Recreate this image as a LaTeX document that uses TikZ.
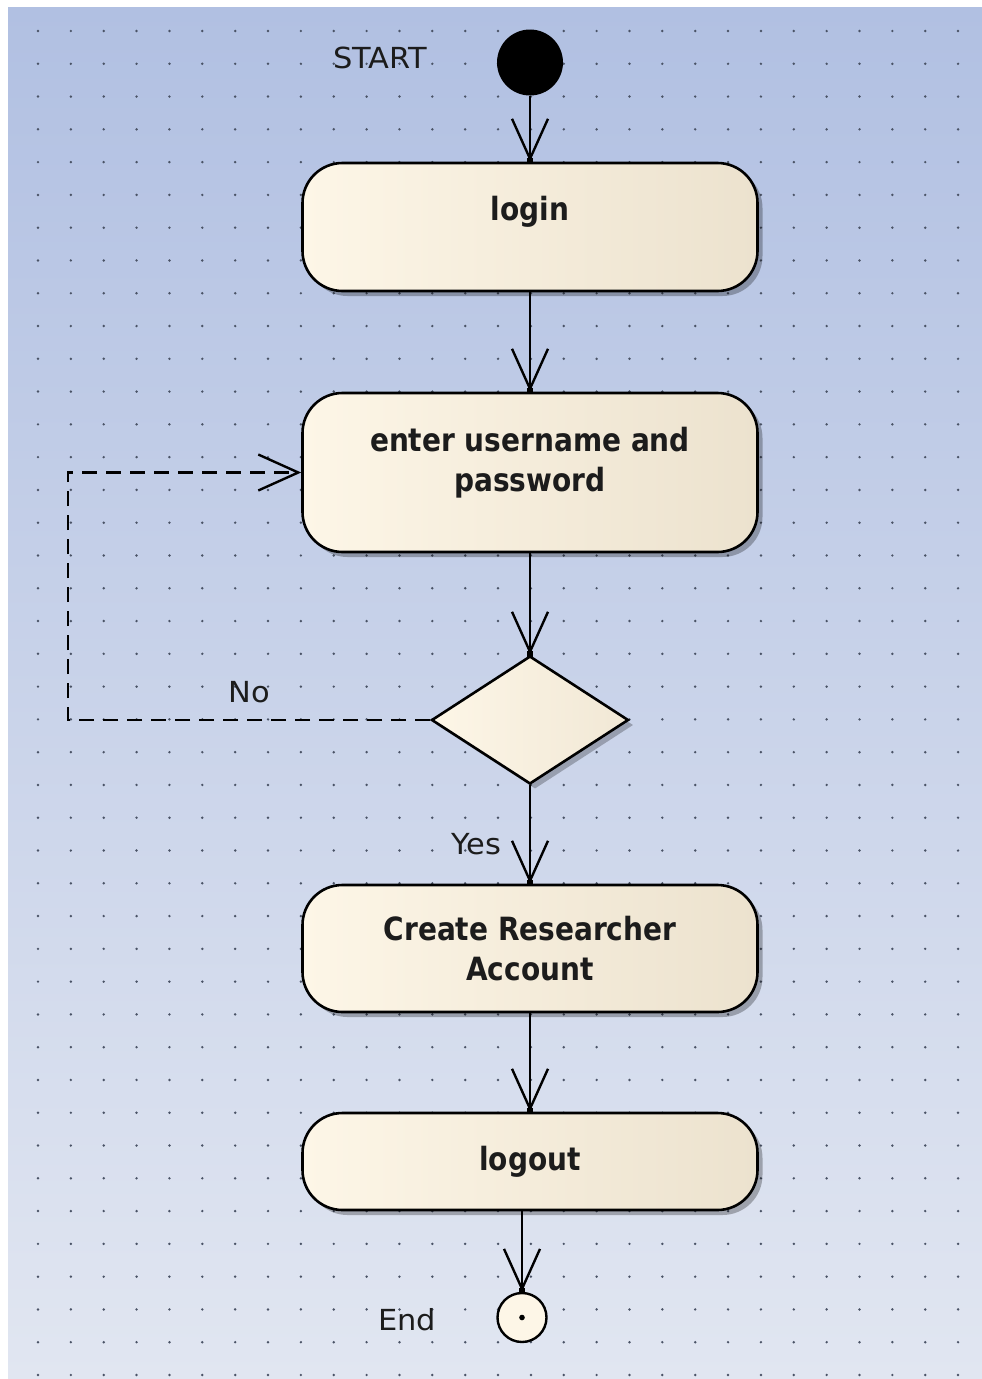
\documentclass[tikz,border=0pt]{standalone}
\usepackage{fontspec}
\usetikzlibrary{arrows.meta,shapes.geometric,shadows}
\newfontfamily\actfont[FakeStretch=0.875]{DejaVu Sans}
\newfontfamily\lblfont[FakeStretch=1.05]{DejaVu Sans}
\definecolor{bgtop}{HTML}{B1C0E2}
\definecolor{bgmid}{HTML}{C8D2EA}
\definecolor{bgbot}{HTML}{E1E6F1}
\definecolor{griddot}{HTML}{4A5366}
\definecolor{creamL}{HTML}{FDF6E7}
\definecolor{creamR}{HTML}{ECE2CE}
\definecolor{ink}{HTML}{1C1C1C}
\tikzset{
  activity/.style={draw=black, line width=2.6pt, rounded corners=40pt,
    left color=creamL, right color=creamR, minimum width=455pt, inner sep=0pt,
    drop shadow={shadow xshift=5pt, shadow yshift=-5pt, fill=black, opacity=.28}},
  acttext/.style={font=\actfont\bfseries\fontsize{32}{40}\selectfont, text=ink,
    align=center, inner sep=0pt, anchor=base},
  lbl/.style={font=\lblfont\fontsize{29}{34}\selectfont, text=ink, inner sep=0pt},
  flow/.style={draw=black, line width=2.2pt,
    -{Straight Barb[length=40pt, width=36pt, line width=2.4pt]}},
  flowdash/.style={flow, line width=2.6pt, dash pattern=on 15pt off 9pt},
  tipdot/.style={fill=black},
}
\begin{document}
\begin{tikzpicture}[x=1pt, y=-1pt]
  % page and canvas
  \useasboundingbox (0,0) rectangle (982,1379);
  \fill[white] (0,0) rectangle (982,1379);
  \shade[top color=bgtop, middle color=bgmid, bottom color=bgbot]
    (8,7) rectangle (982,1379);
  % alignment grid
  \foreach \i in {0,...,28}
    \foreach \j in {0,...,41}
      \fill[griddot] (38+32.86*\i, 31+32.78*\j) circle (1.35pt);

  % initial and final states
  \node[circle, fill=black, minimum size=66pt, inner sep=0pt] (start) at (530,62.5) {};
  \node[lbl] (startlbl) at (380,58) {START};

  % actions (multi-line text sits on the baseline of its last line)
  \node[activity, minimum height=128pt] (login)  at (530,227) {};
  \node[acttext] (logintxt) at (530,220) {login};

  \node[activity, minimum height=159pt] (enter)  at (530,472.5) {};
  \node[acttext] (entertxt) at (530,491) {enter username and\\password};

  \node[diamond, draw=black, line width=2.6pt, minimum width=197pt, minimum height=128pt,
        inner sep=0pt, left color=creamL, right color=creamR!70!creamL,
        drop shadow={shadow xshift=5pt, shadow yshift=-5pt, fill=black, opacity=.25}]
        (check) at (530,720) {};

  \node[activity, minimum height=127pt] (create) at (530,948.5) {};
  \node[acttext] (createtxt) at (530,980) {Create Researcher\\Account};

  \node[activity, minimum height=97pt] (logout) at (530,1161.5) {};
  \node[acttext] (logouttxt) at (530,1170) {logout};

  \node[circle, draw=black, line width=2.4pt, fill=creamL, minimum size=49pt, inner sep=0pt]
        (stop) at (522,1317.5) {};
  \fill (stop.center) circle (2.8pt);
  \node[lbl] (stoplbl) at (407,1320) {End};

  % control flow
  \draw[flow] (start) -- (login);
  \draw[flow] (login) -- (enter);
  \draw[flow] (enter) -- (check);
  \draw[flow] (check) -- node[lbl, pos=.6, anchor=east, xshift=-28pt] (yes) {Yes} (create);
  \draw[flow] (create) -- (logout);
  \draw[flow] (logout.south -| stop) -- (stop);

  \coordinate (loop) at (68,720);
  \draw[flowdash] (check.west) -- node[lbl, pos=.5, anchor=south, yshift=16pt] (no) {No} (loop)
                  |- (enter.west);

  % connector end markers
  \foreach \n in {login, enter, check, create, logout, stop}
    \fill[tipdot] ([yshift=1pt]\n.north) ++(-3,-3) rectangle ++(6,6);
\end{tikzpicture}
\end{document}
